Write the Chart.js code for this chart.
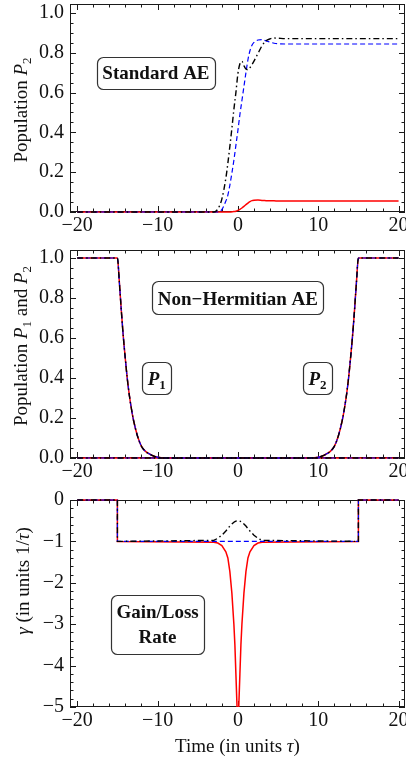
<!DOCTYPE html>
<html>
<head>
<meta charset="utf-8">
<script src="https://cdn.jsdelivr.net/npm/chart.js@4.4.0/dist/chart.umd.min.js"></script>
<style>
  html, body { margin: 0; padding: 0; background: #fff; width: 406px; height: 768px; overflow: hidden; }
  canvas { position: absolute; left: 0; }
</style>
</head>
<body>
<canvas id="standardChart" width="440" height="236" style="top:0px"></canvas>
<canvas id="hermitianChart" width="440" height="250" style="top:240px"></canvas>
<canvas id="gammaChart" width="440" height="278" style="top:490px"></canvas>
<script>
// tick labels
var timeTicks = [-20, -10, 0, 10, 20];
var populationTicks = [0, 0.2, 0.4, 0.6, 0.8, 1.0];
var gammaTicks = [0, -1, -2, -3, -4, -5];

// standard AE: population P2 for the three pulse shapes
var aeTime  = [-20, -3, -2.5, -2, -1.5, -1.25, -1, -0.75, -0.5, -0.25, 0, 0.25, 0.5, 0.75, 1, 1.25, 1.5, 1.75, 2, 2.5, 3, 3.5, 4, 4.5, 5, 6, 8, 20];
var aeRed   = [0, 0, 0, 0, 0, 0, 0, 0.001, 0.002, 0.004, 0.008, 0.013, 0.02, 0.028, 0.037, 0.045, 0.052, 0.057, 0.059, 0.06, 0.058, 0.057, 0.056, 0.056, 0.055, 0.055, 0.055, 0.055];
var aeBlue  = [0, 0, 0, 0.012, 0.055, 0.085, 0.135, 0.195, 0.26, 0.335, 0.41, 0.49, 0.56, 0.63, 0.70, 0.765, 0.81, 0.838, 0.852, 0.864, 0.866, 0.86, 0.854, 0.848, 0.845, 0.844, 0.844, 0.844];
var aeBlack = [0, 0, 0.015, 0.065, 0.17, 0.245, 0.33, 0.42, 0.515, 0.6, 0.695, 0.745, 0.757, 0.735, 0.718, 0.715, 0.725, 0.74, 0.758, 0.797, 0.835, 0.86, 0.87, 0.874, 0.873, 0.871, 0.871, 0.871];

// non-hermitian AE: P1 and P2 (all three shapes coincide)
var nhTime = [-20, -15, -14.75, -14.5, -14.25, -14, -13.75, -13.5, -13.25, -13, -12.5, -12, -11.5, -11, -10.5, -10, -9,
              9, 10, 10.5, 11, 11.5, 12, 12.5, 13, 13.25, 13.5, 13.75, 14, 14.25, 14.5, 14.75, 15, 20];
var nhP1 = [1, 1, 0.875, 0.73, 0.6, 0.49, 0.39, 0.31, 0.245, 0.19, 0.11, 0.058, 0.033, 0.02, 0.01, 0.004, 0,
            0, 0, 0, 0, 0, 0, 0, 0, 0, 0, 0, 0, 0, 0, 0, 0, 0];
var nhP2 = [0, 0, 0, 0, 0, 0, 0, 0, 0, 0, 0, 0, 0, 0, 0, 0, 0,
            0, 0.004, 0.01, 0.02, 0.033, 0.058, 0.11, 0.19, 0.245, 0.31, 0.39, 0.49, 0.6, 0.73, 0.875, 1, 1];

// gain/loss rate gamma
var gammaTime  = [-20, -15, -15, -3, -2.5, -2, -1.5, -1.25, -1, -0.75, -0.5, -0.375, -0.25, -0.125, 0, 0.125, 0.25, 0.375, 0.5, 0.75, 1, 1.25, 1.5, 2, 2.5, 3, 15, 15, 20];
var gammaRed   = [0, 0, -1, -1.02, -1.04, -1.1, -1.25, -1.4, -1.73, -2.25, -3.0, -3.5, -4.2, -4.9, -5.6, -4.9, -4.2, -3.5, -3.0, -2.25, -1.73, -1.4, -1.25, -1.1, -1.04, -1.02, -1, 0, 0];
var gammaBlue  = [0, 0, -1, -1, -1, -1, -1, -1, -1, -1, -1, -1, -1, -1, -1, -1, -1, -1, -1, -1, -1, -1, -1, -1, -1, -1, -1, 0, 0];
var gammaBlack = [0, 0, -1, -0.975, -0.925, -0.85, -0.75, -0.69, -0.63, -0.58, -0.537, -0.521, -0.51, -0.502, -0.5, -0.502, -0.51, -0.521, -0.537, -0.58, -0.63, -0.69, -0.75, -0.85, -0.925, -0.975, -1, 0, 0];

var SERIF = '"Liberation Serif", "Times New Roman", serif';
var INK = '#111';
var EDGE = { left: 3, top: 3, right: 3, bottom: 3 };

function pts(xs, ys) {
  return xs.map(function (x, i) { return { x: x, y: ys[i] }; });
}
function redLine(d)   { return { data: d, borderColor: '#ff0000', borderWidth: 1.5, pointRadius: 0, order: 3, clip: EDGE }; }
function blueLine(d)  { return { data: d, borderColor: '#0000ff', borderWidth: 1.2, borderDash: [5, 3], pointRadius: 0, order: 2, clip: EDGE }; }
function blackLine(d) { return { data: d, borderColor: '#000000', borderWidth: 1.4, borderDash: [6, 3, 1.5, 3], pointRadius: 0, order: 1, clip: EDGE }; }

function minus(v) { return (v < 0 ? '\u2212' : '') + Math.abs(v); }

// rich text: parts = [{text, italic, bold, size, dy}]
function partFont(p) {
  return (p.italic ? 'italic ' : '') + (p.bold ? 'bold ' : '') + (p.size || 19) + 'px ' + SERIF;
}
function richWidth(ctx, parts) {
  var w = 0;
  parts.forEach(function (p) { ctx.font = partFont(p); w += ctx.measureText(p.text).width; });
  return w;
}
function drawRich(ctx, parts, cx, cy, rot) {
  ctx.save();
  ctx.translate(cx, cy);
  ctx.rotate(rot || 0);
  var x = -richWidth(ctx, parts) / 2;
  ctx.textAlign = 'left';
  ctx.textBaseline = 'alphabetic';
  ctx.fillStyle = INK;
  parts.forEach(function (p) {
    ctx.font = partFont(p);
    ctx.fillText(p.text, x, 6.5 + (p.dy || 0));
    x += ctx.measureText(p.text).width;
  });
  ctx.restore();
}

function roundBox(ctx, x, y, w, h, r) {
  ctx.beginPath();
  ctx.moveTo(x + r, y);
  ctx.arcTo(x + w, y, x + w, y + h, r);
  ctx.arcTo(x + w, y + h, x, y + h, r);
  ctx.arcTo(x, y + h, x, y, r);
  ctx.arcTo(x, y, x + w, y, r);
  ctx.closePath();
}

// frame with inward ticks on all four sides (under the curves),
// then labelled boxes and axis titles on top
var framePlugin = {
  id: 'frame',
  beforeDatasetsDraw: function (chart, args, opts) {
    var ctx = chart.ctx, a = chart.chartArea, sx = chart.scales.x, sy = chart.scales.y;
    ctx.save();
    ctx.strokeStyle = '#1a1a1a';
    ctx.lineWidth = 1;
    ctx.strokeRect(Math.round(a.left) + 0.5, Math.round(a.top) + 0.5,
                   Math.round(a.right - a.left) - 1, Math.round(a.bottom - a.top) - 1);
    ctx.beginPath();
    var v, p, len;
    for (v = -20; v <= 20.001; v += 2) {
      p = Math.round(sx.getPixelForValue(v)) + 0.5;
      len = Math.abs(v % 10) < 1e-6 ? 6 : 3.5;
      ctx.moveTo(p, a.bottom); ctx.lineTo(p, a.bottom - len);
      ctx.moveTo(p, a.top); ctx.lineTo(p, a.top + len);
    }
    for (v = opts.yFrom; v <= opts.yTo + 1e-6; v += opts.yMinor) {
      p = Math.round(sy.getPixelForValue(v)) + 0.5;
      var k = Math.round(v / opts.yMinor);
      len = (k % opts.perMajor === 0) ? 6 : 3.5;
      ctx.moveTo(a.left, p); ctx.lineTo(a.left + len, p);
      ctx.moveTo(a.right, p); ctx.lineTo(a.right - len, p);
    }
    ctx.stroke();
    ctx.restore();
  },
  afterDatasetsDraw: function (chart, args, opts) {
    var ctx = chart.ctx, sx = chart.scales.x, sy = chart.scales.y;
    ctx.save();
    (opts.boxes || []).forEach(function (b) {
      var cx = sx.getPixelForValue(b.x), cy = sy.getPixelForValue(b.y);
      var w = 0;
      b.lines.forEach(function (ln) { w = Math.max(w, richWidth(ctx, ln)); });
      w += 11;
      var h = b.h;
      ctx.fillStyle = '#fff';
      ctx.strokeStyle = '#333';
      ctx.lineWidth = 1.2;
      roundBox(ctx, Math.round(cx - w / 2) + 0.5, Math.round(cy - h / 2) + 0.5, Math.round(w), h, 6);
      ctx.fill();
      ctx.stroke();
      var n = b.lines.length;
      b.lines.forEach(function (ln, i) {
        drawRich(ctx, ln, cx, cy + (i - (n - 1) / 2) * 25);
      });
    });

    if (opts.yTitle) drawRich(ctx, opts.yTitle.parts, opts.yTitle.x, opts.yTitle.y, -Math.PI / 2);
    if (opts.xTitle) drawRich(ctx, opts.xTitle.parts, opts.xTitle.x, opts.xTitle.y, 0);
    ctx.restore();
  }
};

function makePanel(id, cfg) {
  return new Chart(document.getElementById(id), {
    type: 'line',
    data: { datasets: cfg.datasets },
    options: {
      responsive: false,
      animation: false,
      devicePixelRatio: 1,
      events: [],
      layout: { padding: { top: cfg.padTop, right: 35, left: 0, bottom: 0 } },
      elements: { line: { tension: 0, cubicInterpolationMode: cfg.curve } },
      plugins: { legend: { display: false }, tooltip: { enabled: false }, frame: cfg.frame },
      scales: {
        x: {
          type: 'linear', min: -20.9, max: 20.8,
          afterBuildTicks: function (s) { s.ticks = timeTicks.map(function (t) { return { value: t }; }); },
          afterFit: function (s) { s.height = cfg.xHeight; s.paddingLeft = 0; s.paddingRight = 0; },
          grid: { display: false, drawTicks: false },
          border: { display: false },
          ticks: { autoSkip: false, maxRotation: 0, padding: 4, color: INK,
                   font: { family: SERIF, size: 20, lineHeight: 1 },
                   callback: function (v) { return minus(v); } }
        },
        y: {
          type: 'linear', min: cfg.yMin, max: cfg.yMax,
          afterBuildTicks: function (s) { s.ticks = cfg.yTicks.map(function (t) { return { value: t }; }); },
          afterFit: function (s) { s.width = 70; s.paddingTop = 0; s.paddingBottom = 0; },
          grid: { display: false, drawTicks: false },
          border: { display: false },
          ticks: { autoSkip: false, padding: 6, color: INK,
                   font: { family: SERIF, size: 20, lineHeight: 1 },
                   callback: cfg.yFormat }
        }
      }
    },
    plugins: [framePlugin]
  });
}

var sub = function (t) { return { text: t, size: 13, dy: 4 }; };
var ital = function (t) { return { text: t, italic: true }; };

makePanel('standardChart', {
  padTop: 4, xHeight: 24, yMin: 0, yMax: 1.045, yTicks: populationTicks, curve: 'monotone',
  yFormat: function (v) { return v.toFixed(1); },
  datasets: [blackLine(pts(aeTime, aeBlack)), blueLine(pts(aeTime, aeBlue)), redLine(pts(aeTime, aeRed))],
  frame: {
    yFrom: 0, yTo: 1.0, yMinor: 0.05, perMajor: 4,
    boxes: [{ x: -10.2, y: 0.70, h: 32, lines: [[{ text: 'Standard AE', bold: true }]] }],
    yTitle: { x: 20, y: 110, parts: [{ text: 'Population ' }, ital('P'), sub('2')] }
  }
});

makePanel('hermitianChart', {
  padTop: 10, xHeight: 32, yMin: 0, yMax: 1.04, yTicks: populationTicks, curve: 'monotone',
  yFormat: function (v) { return v.toFixed(1); },
  datasets: [
    blackLine(pts(nhTime, nhP1)), blackLine(pts(nhTime, nhP2)),
    blueLine(pts(nhTime, nhP1)), blueLine(pts(nhTime, nhP2)),
    redLine(pts(nhTime, nhP1)), redLine(pts(nhTime, nhP2))
  ],
  frame: {
    yFrom: 0, yTo: 1.0, yMinor: 0.05, perMajor: 4,
    boxes: [
      { x: 0, y: 0.80, h: 33, lines: [[{ text: 'Non\u2212Hermitian AE', bold: true }]] },
      { x: -10.1, y: 0.40, h: 32, lines: [[{ text: 'P', bold: true, italic: true }, { text: '1', bold: true, size: 13, dy: 4 }]] },
      { x: 9.9, y: 0.40, h: 32, lines: [[{ text: 'P', bold: true, italic: true }, { text: '2', bold: true, size: 13, dy: 4 }]] }
    ],
    yTitle: { x: 20, y: 106, parts: [{ text: 'Population ' }, ital('P'), sub('1'), { text: ' and ' }, ital('P'), sub('2')] }
  }
});

var gammaRedSet = redLine(pts(gammaTime, gammaRed));
gammaRedSet.clip = { left: 3, top: 3, right: 3, bottom: 0 };

makePanel('gammaChart', {
  padTop: 10, xHeight: 61, yMin: -5, yMax: 0, yTicks: gammaTicks, curve: 'default',
  yFormat: function (v) { return minus(v); },
  datasets: [blackLine(pts(gammaTime, gammaBlack)), blueLine(pts(gammaTime, gammaBlue)), gammaRedSet],
  frame: {
    yFrom: -5, yTo: 0, yMinor: 0.2, perMajor: 5,
    boxes: [{ x: -10.0, y: -3.0, h: 59, lines: [[{ text: 'Gain/Loss', bold: true }], [{ text: 'Rate', bold: true }]] }],
    yTitle: { x: 22, y: 91, parts: [ital('\u03b3'), { text: ' (in units 1/' }, ital('\u03c4'), { text: ')' }] },
    xTitle: { x: 237.5, y: 255, parts: [{ text: 'Time (in units ' }, ital('\u03c4'), { text: ')' }] }
  }
});
</script>
</body>
</html>
